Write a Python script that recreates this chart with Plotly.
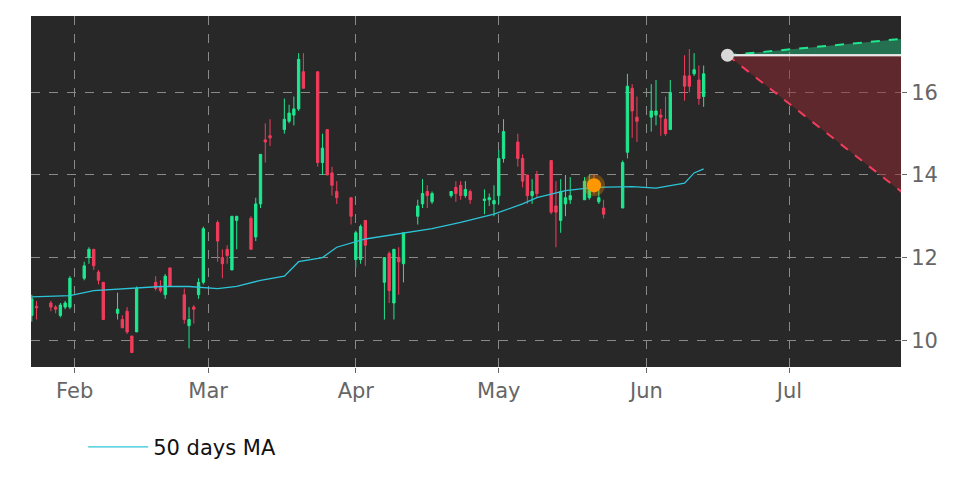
import plotly.graph_objects as go

dates = ["2025-01-23","2025-01-24","2025-01-27","2025-01-28","2025-01-29","2025-01-30","2025-01-31",
         "2025-02-03","2025-02-04","2025-02-05","2025-02-06","2025-02-07",
         "2025-02-10","2025-02-11","2025-02-12","2025-02-13","2025-02-14",
         "2025-02-18","2025-02-19","2025-02-20","2025-02-21",
         "2025-02-24","2025-02-25","2025-02-26","2025-02-27","2025-02-28",
         "2025-03-03","2025-03-04","2025-03-05","2025-03-06","2025-03-07",
         "2025-03-10","2025-03-11","2025-03-12","2025-03-13","2025-03-14",
         "2025-03-17","2025-03-18","2025-03-19","2025-03-20","2025-03-21",
         "2025-03-24","2025-03-25","2025-03-26","2025-03-27","2025-03-28",
         "2025-03-31","2025-04-01","2025-04-02","2025-04-03",
         "2025-04-07","2025-04-08","2025-04-09","2025-04-10","2025-04-11",
         "2025-04-14","2025-04-15","2025-04-16","2025-04-17",
         "2025-04-21","2025-04-22","2025-04-23","2025-04-24","2025-04-25",
         "2025-04-28","2025-04-29","2025-04-30","2025-05-01","2025-05-02",
         "2025-05-05","2025-05-06","2025-05-07","2025-05-08","2025-05-09",
         "2025-05-12","2025-05-13","2025-05-14","2025-05-15","2025-05-16",
         "2025-05-19","2025-05-20","2025-05-21","2025-05-22","2025-05-23",
         "2025-05-27","2025-05-28","2025-05-29","2025-05-30",
         "2025-06-02","2025-06-03","2025-06-04","2025-06-05","2025-06-06",
         "2025-06-09","2025-06-10","2025-06-11","2025-06-12","2025-06-13"]
opens = [10.6,10.82,10.9,10.8,10.6,10.8,10.8,
         11.5,12.0,12.2,11.65,11.4,
         10.65,10.5,10.7,10.1,10.2,
         11.4,11.3,11.1,11.75,
         11.1,10.35,10.8,11.1,11.4,
         12.85,12.0,12.2,11.7,12.9,
         12.95,12.5,13.3,14.85,14.95,
         15.1,15.3,15.45,15.6,16.5,
         16.5,14.3,15.1,14.05,13.6,
         13.45,11.95,11.95,12.9,
         11.4,12.1,10.9,12.0,11.85,
         13.0,13.3,13.6,13.35,
         13.5,13.7,13.75,13.5,13.6,
         13.38,13.4,13.3,13.5,14.4,
         14.8,14.4,14.0,13.5,14.0,
         14.35,13.25,12.9,13.3,13.4,
         13.4,13.45,13.85,13.35,13.2,
         13.2,14.55,16.1,15.4,
         15.4,15.45,15.45,15.35,15.1,
         16.4,16.4,16.45,16.3,15.9]
highs = [11.1,10.95,10.95,10.85,10.9,10.95,11.55,
         11.9,12.25,12.2,11.7,11.4,
         11.15,10.6,10.8,10.1,11.3,
         11.55,11.45,11.6,11.75,
         11.25,10.8,10.85,11.5,12.75,
         12.9,12.2,12.3,13.0,13.0,
         13.0,13.45,14.5,15.25,15.35,
         15.85,15.7,15.9,16.95,16.95,
         16.5,15.0,15.1,14.2,13.85,
         13.45,12.65,12.8,12.9,
         12.0,12.15,12.2,12.25,12.6,
         13.4,13.9,13.75,13.6,
         13.6,13.85,13.85,13.85,13.65,
         13.65,13.55,13.75,14.6,15.35,
         15.0,14.5,14.0,13.9,14.1,
         14.35,13.85,13.9,14.0,13.95,
         13.95,14.0,14.0,13.8,13.4,
         14.35,16.45,16.2,15.9,
         16.2,16.3,15.6,15.9,16.3,
         16.9,17.05,16.95,16.65,16.65]
lows = [10.45,10.5,10.7,10.65,10.55,10.75,10.75,
        11.45,11.85,11.7,11.35,10.5,
        10.5,10.3,10.15,9.7,10.2,
        11.2,11.15,11.0,11.3,
        10.4,9.8,10.4,11.0,11.35,
        11.9,11.5,11.85,11.7,12.2,
        12.2,12.4,13.2,14.3,14.7,
        15.0,15.25,15.2,15.55,16.1,
        14.2,14.0,14.0,13.5,13.3,
        12.8,11.75,11.85,11.8,
        10.5,10.9,10.5,11.1,11.4,
        12.8,13.2,13.2,13.3,
        13.45,13.35,13.4,13.45,13.3,
        13.05,13.25,13.0,13.3,14.3,
        14.2,13.7,13.3,13.3,13.45,
        13.05,12.25,12.6,13.0,13.3,
        13.4,13.4,13.55,13.3,12.95,
        13.2,14.4,14.9,14.8,
        15.05,15.2,14.95,14.95,15.1,
        15.8,16.0,16.4,15.7,15.65]
closes = [11.0,10.78,10.8,10.75,10.85,10.9,11.5,
          11.8,12.2,11.8,11.45,10.5,
          10.75,10.3,10.2,9.7,11.25,
          11.25,11.2,11.55,11.3,
          10.5,10.5,10.75,11.4,12.7,
          12.4,11.85,12.05,13.0,13.0,
          12.2,13.3,14.5,14.8,14.9,
          15.35,15.5,15.6,16.8,16.1,
          14.3,14.65,14.0,13.75,13.45,
          13.0,12.6,12.75,12.3,
          12.0,11.2,12.2,11.9,12.6,
          13.25,13.55,13.5,13.55,
          13.6,13.55,13.5,13.65,13.4,
          13.42,13.45,13.38,14.4,15.05,
          14.4,13.85,13.5,13.6,13.55,
          13.1,13.1,13.6,13.45,13.5,
          13.85,13.85,13.75,13.45,13.05,
          14.3,16.15,15.55,15.3,
          15.55,15.55,15.4,15.0,16.0,
          16.15,16.15,16.55,15.85,16.45]

ma_dates = ["2025-01-23","2025-01-31","2025-02-05","2025-02-11","2025-02-19","2025-02-25",
            "2025-03-03","2025-03-07","2025-03-12","2025-03-17","2025-03-20","2025-03-25",
            "2025-03-28","2025-04-03","2025-04-11","2025-04-17","2025-04-23","2025-04-30",
            "2025-05-06","2025-05-09","2025-05-15","2025-05-21","2025-05-29","2025-06-03",
            "2025-06-09","2025-06-11","2025-06-13"]
ma_values = [11.05,11.08,11.2,11.25,11.3,11.3,11.25,11.3,11.45,11.55,11.9,12.0,
             12.25,12.45,12.6,12.7,12.85,13.05,13.3,13.45,13.62,13.7,13.72,13.68,
             13.8,14.05,14.15]

fc_dates = ["2025-06-18", "2025-07-25"]
fc_mid = [16.9, 16.9]
fc_high = [16.9, 17.3]
fc_low = [16.9, 13.55]
signal_date = ["2025-05-21"]
signal_value = [13.75]

fig = go.Figure()
fig.add_trace(go.Candlestick(
    x=dates, open=opens, high=highs, low=lows, close=closes,
    increasing=dict(line=dict(color="#1ee88f", width=1), fillcolor="#1ee88f"),
    decreasing=dict(line=dict(color="#f23c5c", width=1), fillcolor="#f23c5c"),
    whiskerwidth=0, showlegend=False))
fig.add_trace(go.Scatter(x=ma_dates, y=ma_values, mode="lines", name="50 days MA",
                         line=dict(color="#2cc4d8", width=1.3)))
fig.add_trace(go.Scatter(x=fc_dates, y=fc_mid, mode="lines", showlegend=False,
                         line=dict(color="#e8e8e8", width=2)))
fig.add_trace(go.Scatter(x=fc_dates, y=fc_high, mode="lines", showlegend=False, fill="tonexty",
                         fillcolor="rgba(30,200,130,0.45)",
                         line=dict(color="#1ee88f", width=2, dash="dash")))
fig.add_trace(go.Scatter(x=fc_dates, y=fc_mid, mode="lines", showlegend=False,
                         line=dict(color="#e8e8e8", width=2)))
fig.add_trace(go.Scatter(x=fc_dates, y=fc_low, mode="lines", showlegend=False, fill="tonexty",
                         fillcolor="rgba(150,40,50,0.5)",
                         line=dict(color="#f23c5c", width=2, dash="dash")))
fig.add_trace(go.Scatter(x=fc_dates[:1], y=fc_mid[:1], mode="markers", showlegend=False,
                         marker=dict(color="#d8d8d8", size=13)))
fig.add_trace(go.Scatter(x=signal_date, y=signal_value, mode="markers", showlegend=False,
                         marker=dict(color="#ff9800", size=14,
                                     line=dict(color="rgba(255,152,0,0.3)", width=8))))

fig.update_layout(
    width=972, height=486,
    margin=dict(l=23, r=79, t=8, b=127),
    paper_bgcolor="white", plot_bgcolor="#282828",
    font=dict(family="DejaVu Sans", size=21, color="#666666"),
    legend=dict(orientation="h", x=0.06, y=-0.17, xanchor="left", yanchor="top",
                font=dict(size=21, color="#111111"), itemwidth=60),
    xaxis=dict(type="date", range=["2025-01-22 20:00", "2025-07-24 10:00"],
               rangeslider=dict(visible=False), dtick="M1", tickformat="%b",
               showgrid=True, gridcolor="#8a8a8a", griddash="dash", gridwidth=1,
               ticks="outside", ticklen=5, tickcolor="#666666"),
    yaxis=dict(side="right", range=[9.35, 17.85], dtick=2,
               showgrid=True, gridcolor="#8a8a8a", griddash="dash", gridwidth=1,
               ticks="outside", ticklen=5, tickcolor="#666666", zeroline=False),
)
fig.write_html("out.html")
